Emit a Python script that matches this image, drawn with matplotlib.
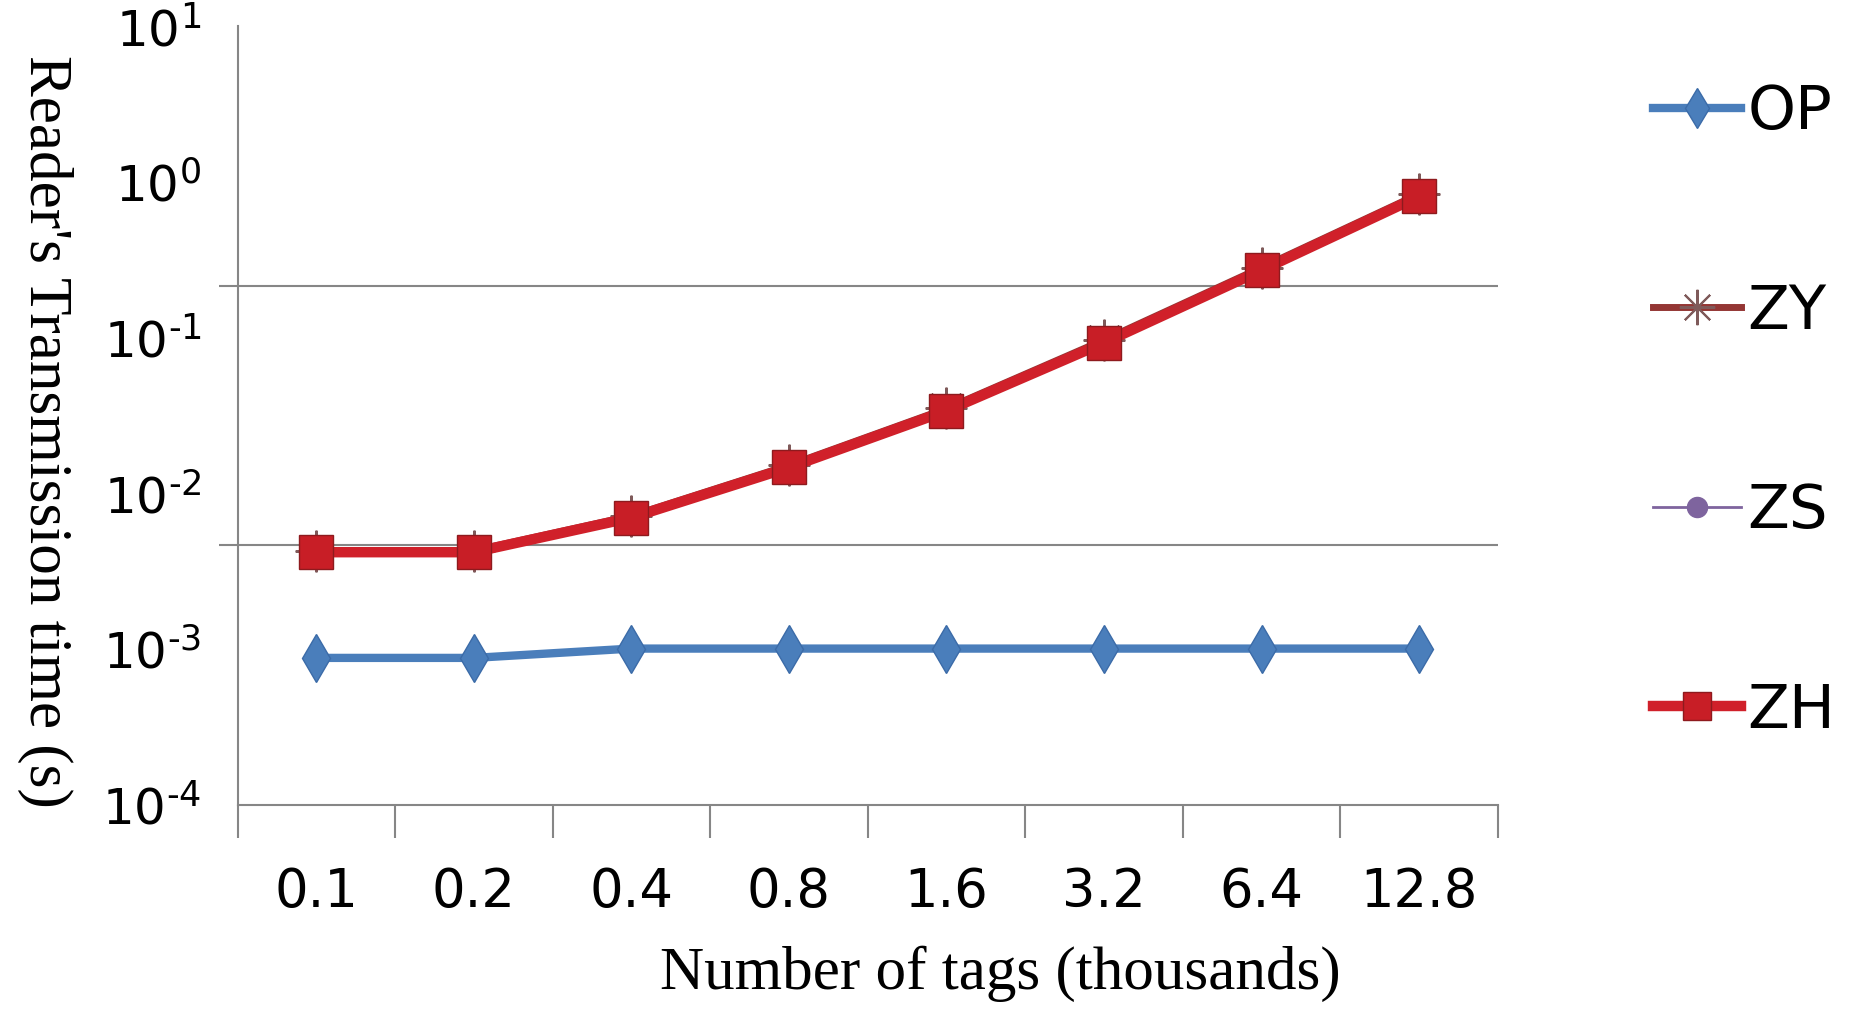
import matplotlib.pyplot as plt
import numpy as np
from matplotlib.ticker import FixedLocator, FuncFormatter, NullFormatter

# data
tag_labels = ["0.1", "0.2", "0.4", "0.8", "1.6", "3.2", "6.4", "12.8"]
op = [0.00088, 0.00088, 0.00101, 0.00101, 0.00101, 0.00101, 0.00101, 0.00101]
zy = [0.0043, 0.0043, 0.0072, 0.0152, 0.0352, 0.097, 0.283, 0.84]
zs = [0.0043, 0.0043, 0.0071, 0.0150, 0.0348, 0.095, 0.278, 0.83]
zh = [0.0042, 0.0042, 0.0070, 0.0147, 0.0340, 0.093, 0.272, 0.81]

grid_c = "#868686"

fig = plt.figure(figsize=(18.56, 10.17), dpi=100)
ax = fig.add_axes([0.128, 0.2085, 0.679, 0.7655])

x = np.arange(len(tag_labels))

ax.plot(x, op, color="#4A7EBB", lw=6, marker="d", ms=24, mfc="#4A7EBB", mec="#3B6BA8", label="OP", zorder=3)
ax.plot(x, zy, color="#943634", lw=5, marker=(8, 2, 0), ms=30, mec="#7F5A5A", mew=1.5, label="ZY", zorder=4)
ax.plot(x, zs, color="#7E649E", lw=2, marker="o", ms=17, mfc="#7E649E", mec="#7E649E", label="ZS", zorder=5)
ax.plot(x, zh, color="#D0202A", lw=7.5, marker="s", ms=24, mfc="#C81E26", mec="#8E1A1E", mew=1, label="ZH", zorder=6)

ax.set_yscale("log")
ax.set_ylim(1e-4, 1e1)
ax.set_xlim(-0.5, len(tag_labels) - 0.5)


def decade(v, pos):
    e = int(round(np.log10(v)))
    if e < 0:
        return r"$\mathdefault{10^{\text{-}%d}}$" % (-e)
    return r"$\mathdefault{10^{%d}}$" % e


# decade labels without tick marks, Excel-style gridlines in between
ax.yaxis.set_major_locator(FixedLocator([1e-4, 1e-3, 1e-2, 1e-1, 1e0, 1e1]))
ax.yaxis.set_major_formatter(FuncFormatter(decade))
grid_pos = [10 ** (-4 + 5 * k / 3) for k in range(4)]
ax.yaxis.set_minor_locator(FixedLocator(grid_pos))
ax.yaxis.set_minor_formatter(NullFormatter())
ax.tick_params(axis="y", which="major", length=0, labelsize=36, pad=26)
ax.tick_params(axis="y", which="minor", length=14, width=1.5, color=grid_c)
ax.grid(True, axis="y", which="minor", color=grid_c, lw=1.5)
ax.grid(False, axis="y", which="major")

ax.set_xticks(x)
ax.set_xticklabels(tag_labels)
ax.set_xticks(np.arange(-0.5, len(tag_labels)), minor=True)
ax.tick_params(axis="x", which="major", length=0, labelsize=38, pad=44)
ax.tick_params(axis="x", which="minor", length=24, width=1.5, color=grid_c)

for s in ["top", "right"]:
    ax.spines[s].set_visible(False)
for s in ["left", "bottom"]:
    ax.spines[s].set_color(grid_c)
    ax.spines[s].set_linewidth(1.5)

ax.set_xlabel("Number of tags (thousands)", family="Liberation Serif", fontsize=44)
ax.xaxis.set_label_coords(0.605, -0.18)
ax.set_ylabel("Reader's Transmission time (s)", family="Liberation Serif", fontsize=44,
              rotation=270, va="center")
ax.yaxis.set_label_coords(-0.153, 0.48)

fig.legend(loc="center left", bbox_to_anchor=(0.874, 0.595), frameon=False,
           fontsize=44, labelspacing=2.3, handlelength=1.45, handletextpad=0.1,
           borderpad=0, markerscale=0.85)

fig.savefig("out.png", dpi=100)
